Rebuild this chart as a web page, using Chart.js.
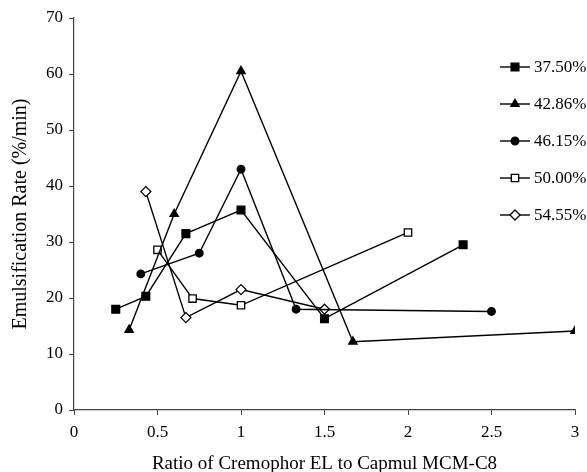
<!DOCTYPE html>
<html>
<head>
<meta charset="utf-8">
<script src="https://cdn.jsdelivr.net/npm/chart.js@4"></script>
<style>
  html, body { margin: 0; padding: 0; background: #fff; }
  #wrap { width: 587px; height: 472px; }
</style>
</head>
<body>
<div id="wrap"><canvas id="rate_chart"></canvas></div>
<script>
// emulsification rate vs. surfactant/co-surfactant ratio, one series per oil content
const seriesLabels = ['37.50%', '42.86%', '46.15%', '50.00%', '54.55%'];

const ratio375 = [0.25, 0.43, 0.67, 1, 1.5, 2.33];
const rate375 = [18.0, 20.3, 31.5, 35.7, 16.3, 29.5];

const ratio4286 = [0.33, 0.6, 1, 1.67, 3];
const rate4286 = [14.3, 35.0, 60.5, 12.2, 14.1];

const ratio4615 = [0.4, 0.75, 1, 1.33, 2.5];
const rate4615 = [24.3, 28.0, 43.0, 18.0, 17.6];

const ratio50 = [0.5, 0.71, 1, 2];
const rate50 = [28.6, 19.9, 18.7, 31.7];

const ratio5455 = [0.43, 0.67, 1, 1.5];
const rate5455 = [39.0, 16.5, 21.5, 18.0];

const xTicks = [0, 0.5, 1, 1.5, 2, 2.5, 3];
const yTicks = [0, 10, 20, 30, 40, 50, 60, 70];

const serif = "'Liberation Serif', 'Times New Roman', serif";

const toPoints = (xs, ys) => xs.map((x, i) => ({ x: x, y: ys[i] }));

const markers = [
    { pointStyle: 'rect', radius: 5.5, fill: '#000' },
    { pointStyle: 'triangle', radius: 4.8, fill: '#000' },
    { pointStyle: 'circle', radius: 3.8, fill: '#000' },
    { pointStyle: 'rect', radius: 5.2, fill: '#fff' },
    { pointStyle: 'rectRot', radius: 5, fill: '#fff' }
];

const allData = [
    toPoints(ratio375, rate375),
    toPoints(ratio4286, rate4286),
    toPoints(ratio4615, rate4615),
    toPoints(ratio50, rate50),
    toPoints(ratio5455, rate5455)
];

const datasets = allData.map((pts, i) => ({
    label: seriesLabels[i],
    data: pts,
    showLine: true,
    borderColor: '#000',
    borderWidth: 1.4,
    pointStyle: markers[i].pointStyle,
    pointRadius: markers[i].radius,
    pointHoverRadius: markers[i].radius,
    pointBackgroundColor: markers[i].fill,
    pointBorderColor: '#000',
    pointBorderWidth: 1.3
}));

// legend drawn by hand: line segment with the marker in the middle
const lineLegend = {
    id: 'lineLegend',
    afterDraw(chart) {
        const ctx = chart.ctx;
        ctx.save();
        chart.data.datasets.forEach((ds, i) => {
            const y = 67 + i * 37;
            ctx.strokeStyle = '#000';
            ctx.lineWidth = 1.4;
            ctx.beginPath();
            ctx.moveTo(500, y);
            ctx.lineTo(530, y);
            ctx.stroke();
            ctx.fillStyle = markers[i].fill;
            ctx.lineWidth = 1.3;
            Chart.helpers.drawPoint(ctx, {
                pointStyle: markers[i].pointStyle,
                radius: markers[i].radius,
                rotation: 0,
                borderWidth: 1.3
            }, 515, y);
            ctx.fillStyle = '#000';
            ctx.font = '17px ' + serif;
            ctx.textBaseline = 'middle';
            ctx.textAlign = 'left';
            ctx.fillText(ds.label, 534, y + 1);
        });
        ctx.restore();
    }
};

new Chart(document.getElementById('rate_chart'), {
    type: 'scatter',
    data: { datasets: datasets },
    plugins: [lineLegend],
    options: {
        responsive: true,
        maintainAspectRatio: false,
        animation: false,
        layout: { padding: { top: 18, right: 12, left: 0, bottom: 0 } },
        plugins: {
            legend: { display: false },
            tooltip: { enabled: false }
        },
        scales: {
            x: {
                type: 'linear',
                min: 0,
                max: 3,
                afterBuildTicks: (axis) => { axis.ticks = xTicks.map(v => ({ value: v })); },
                afterFit: (axis) => { axis.height = 62; },
                border: { display: true, color: '#444', width: 1.2 },
                grid: { display: true, drawOnChartArea: false, drawTicks: true, tickLength: 5, color: '#444' },
                ticks: {
                    color: '#000',
                    font: { family: serif, size: 17 },
                    padding: 7,
                    maxRotation: 0,
                    callback: (v) => String(v)
                },
                title: {
                    display: true,
                    text: 'Ratio of Cremophor EL to Capmul MCM-C8',
                    color: '#000',
                    font: { family: serif, size: 19, lineHeight: 0.85 },
                    padding: { top: 0, bottom: 0 }
                }
            },
            y: {
                type: 'linear',
                min: 0,
                max: 70,
                afterBuildTicks: (axis) => { axis.ticks = yTicks.map(v => ({ value: v })); },
                afterFit: (axis) => { axis.width = 74; },
                border: { display: true, color: '#444', width: 1.2 },
                grid: { display: true, drawOnChartArea: false, drawTicks: true, tickLength: 5, color: '#444' },
                ticks: { color: '#000', font: { family: serif, size: 17 }, padding: 6 },
                title: {
                    display: true,
                    text: 'Emulsification Rate (%/min)',
                    color: '#000',
                    font: { family: serif, size: 20, lineHeight: 1.2 },
                    padding: { top: 9, bottom: 0 }
                }
            }
        }
    }
});
</script>
</body>
</html>
